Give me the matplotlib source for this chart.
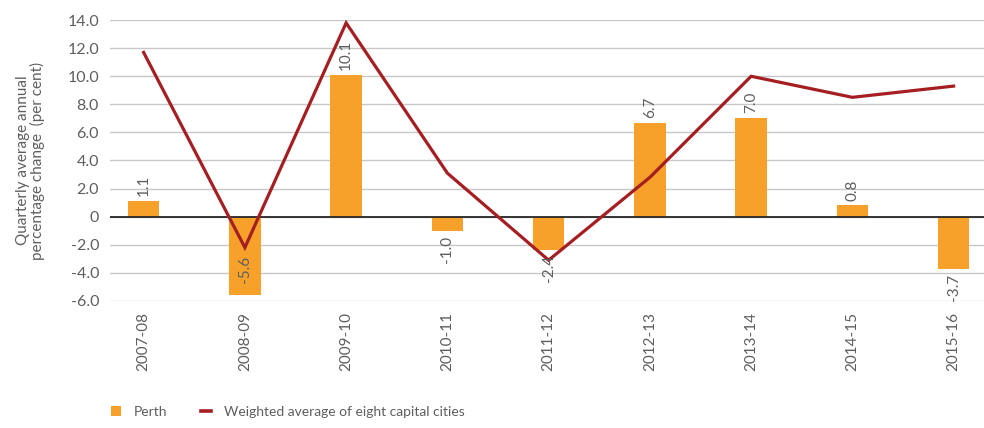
import matplotlib
matplotlib.use("Agg")
import matplotlib.pyplot as plt
import numpy as np
from matplotlib.lines import Line2D
from matplotlib.patches import Patch

categories = ["2007-08", "2008-09", "2009-10", "2010-11", "2011-12",
              "2012-13", "2013-14", "2014-15", "2015-16"]
perth = [1.1, -5.6, 10.1, -1.0, -2.4, 6.7, 7.0, 0.8, -3.7]
weighted_avg = [11.7, -2.2, 13.8, 3.1, -3.1, 2.8, 10.0, 8.5, 9.3]
yticks = [14, 12, 10, 8, 6, 4, 2, 0, -2, -4, -6]

bar_color = "#F7A12A"
line_color = "#A41E22"
text_color = "#5E5E5E"
plt.rcParams['font.family'] = ['Lato', 'DejaVu Sans']

fig = plt.figure(figsize=(9.84, 4.28), dpi=100)
ax = fig.add_axes([0.112, 0.297, 0.888, 0.656])

x = np.arange(len(categories))
ax.bar(x, perth, width=0.31, color=bar_color, zorder=2)
ax.plot(x, weighted_avg, color=line_color, lw=2.3, zorder=3,
        solid_joinstyle='miter')

ax.set_ylim(-6, 14)
ax.set_xlim(-0.33, 8.3)
ax.set_yticks(yticks)
ax.set_yticklabels(["0" if v == 0 else f"{v:.1f}" for v in yticks],
                   fontsize=11.5, color=text_color)
ax.set_xticks(x)
ax.set_xticklabels(categories, rotation=90, fontsize=11, color=text_color)
ax.tick_params(axis='both', length=0)
ax.tick_params(axis='x', pad=8)
ax.tick_params(axis='y', pad=8)
ax.grid(axis='y', color='#C8C8C8', lw=1.0, zorder=0)
ax.axhline(0, color='#262626', lw=1.3, zorder=2.5)
for s in ax.spines.values():
    s.set_visible(False)

ax.set_ylabel("Quarterly average annual\npercentage change  (per cent)",
              fontsize=11, color=text_color, labelpad=16, linespacing=1.0)

# data labels
for xi, v in zip(x, perth):
    lab = f"{v:.1f}"
    if v >= 0:
        if v + 3.5 > 14:
            ax.text(xi, v + 1.6, lab, rotation=90, ha='center', va='top',
                    fontsize=11, color=text_color, zorder=4)
        else:
            ax.text(xi, v + 0.35, lab, rotation=90, ha='center', va='bottom',
                    fontsize=11, color=text_color, zorder=4)
    else:
        if v - 2.2 < -6:
            ax.text(xi, v + 0.85, lab, rotation=90, ha='center', va='bottom',
                    fontsize=11, color=text_color, zorder=4)
        else:
            ax.text(xi, v - 0.35, lab, rotation=90, ha='center', va='top',
                    fontsize=11, color=text_color, zorder=4)

handles = [Patch(facecolor=bar_color, edgecolor='none'),
           Line2D([0], [0], color=line_color, lw=2.6)]
fig.legend(handles, ["Perth", "Weighted average of eight capital cities"],
           loc='lower left', bbox_to_anchor=(0.1, -0.005), ncol=2,
           frameon=False, fontsize=10, labelcolor=text_color,
           handlelength=0.75, handleheight=0.75, columnspacing=2.4,
           handletextpad=0.9)

fig.savefig("out.png", dpi=100)
